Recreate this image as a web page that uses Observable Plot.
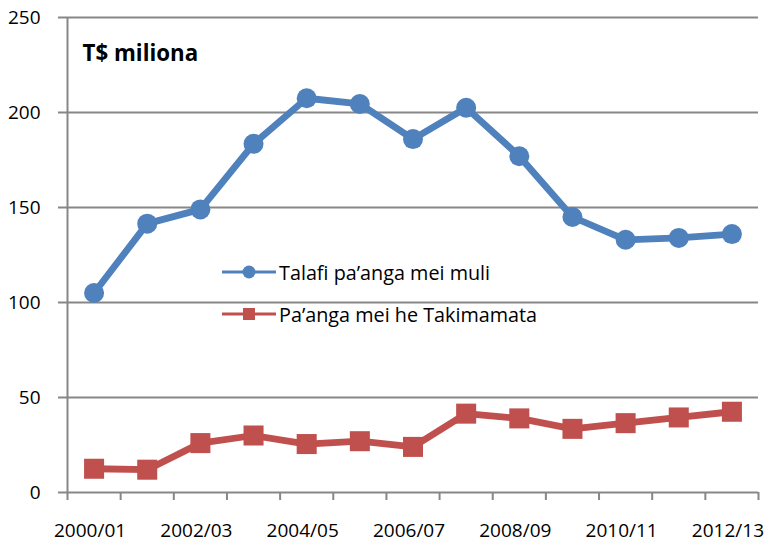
<!DOCTYPE html>
<html>
<head>
<meta charset="utf-8">
<script src="https://cdn.jsdelivr.net/npm/d3@7"></script>
<script src="https://cdn.jsdelivr.net/npm/@observablehq/plot@0.6"></script>
<style>
  html, body { margin: 0; padding: 0; background: #fff; }
  #wrap { position: relative; width: 766px; height: 543px; font-family: "Open Sans", sans-serif; }
  #legend { position: absolute; left: 222px; top: 258px; }
  .row { display: flex; align-items: center; height: 28px; margin-bottom: 14px; font-size: 19.8px; color: #000; white-space: nowrap; }
  .row svg { margin-right: 3px; }
</style>
</head>
<body>
<div id="wrap"><div id="legend"></div></div>
<script>
const years = ["2000/01","2001/02","2002/03","2003/04","2004/05","2005/06","2006/07","2007/08","2008/09","2009/10","2010/11","2011/12","2012/13"];
const talafi = [105, 141.5, 149, 183.5, 207.5, 204.5, 186, 202.5, 177, 145, 133, 134, 136];
const takimamata = [12.5, 12, 26, 30, 25.5, 27, 24, 41.5, 39, 33.5, 36.5, 39.5, 42.5];
const yTicks = [0, 50, 100, 150, 200, 250];
const labelledYears = ["2000/01","2002/03","2004/05","2006/07","2008/09","2010/11","2012/13"];
const seriesNames = ["Talafi pa\u2019anga mei muli", "Pa\u2019anga mei he Takimamata"];
const seriesColors = ["#4F81BD", "#C0504D"];
const titleText = "T$ miliona";

const gray = "#878787";
const blueData = years.map((y, i) => ({year: y, pos: i + 0.5, value: talafi[i]}));
const redData = years.map((y, i) => ({year: y, pos: i + 0.5, value: takimamata[i]}));
const boundaries = d3.range(years.length + 1);
const labelPos = labelledYears.map(y => years.indexOf(y) + 0.5);

const chart = Plot.plot({
  width: 766,
  height: 543,
  marginLeft: 67,
  marginRight: 8,
  marginTop: 17,
  marginBottom: 51,
  style: {fontFamily: "Open Sans, sans-serif", fontSize: "19px", color: "#000", background: "#fff"},
  x: {type: "linear", domain: [0, years.length], axis: null},
  y: {domain: [0, 250], axis: null},
  marks: [
    Plot.gridY(yTicks, {stroke: gray, strokeOpacity: 1, strokeWidth: 2}),
    Plot.axisY(yTicks, {tickSize: 9, tickPadding: 18, stroke: gray, strokeWidth: 2, fontSize: 19, fill: "#000", label: null}),
    Plot.ruleX([0], {stroke: gray, strokeWidth: 2}),
    Plot.axisX(boundaries, {tickSize: 8, tickFormat: () => "", stroke: gray, strokeWidth: 2, label: null}),
    Plot.axisX(labelPos, {tickSize: 0, tickPadding: 31, tickFormat: p => years[Math.round(p - 0.5)], fontSize: 19, fill: "#000", dx: -4, label: null}),
    Plot.line(blueData, {x: "pos", y: "value", stroke: seriesColors[0], strokeWidth: 6.8}),
    Plot.dot(blueData, {x: "pos", y: "value", r: 10, fill: seriesColors[0], symbol: "circle"}),
    Plot.line(redData, {x: "pos", y: "value", stroke: seriesColors[1], strokeWidth: 6.8}),
    Plot.dot(redData, {x: "pos", y: "value", r: 11.3, fill: seriesColors[1], symbol: "square"}),
    Plot.text([titleText], {frameAnchor: "top-left", textAnchor: "start", lineAnchor: "bottom", dx: 15, dy: 43, fontSize: 22.3, fontWeight: "bold", fill: "#000"})
  ]
});
document.getElementById("wrap").prepend(chart);

const legend = document.getElementById("legend");
seriesNames.forEach((name, k) => {
  const row = document.createElement("div");
  row.className = "row";
  const marker = k === 0
    ? `<circle cx="27" cy="14" r="6.5" fill="${seriesColors[k]}"/>`
    : `<rect x="21" y="8" width="12" height="12" fill="${seriesColors[k]}"/>`;
  row.innerHTML = `<svg width="54" height="28"><line x1="0" x2="54" y1="14" y2="14" stroke="${seriesColors[k]}" stroke-width="3"/>${marker}</svg><span>${name}</span>`;
  legend.appendChild(row);
});
</script>
</body>
</html>
